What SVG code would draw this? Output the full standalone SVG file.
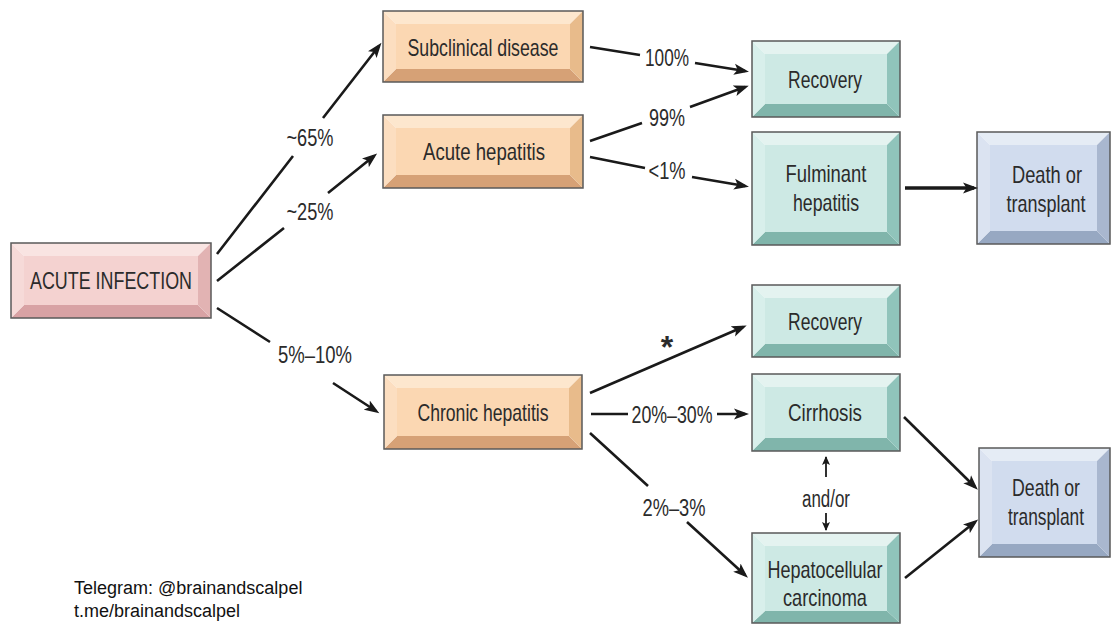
<svg xmlns="http://www.w3.org/2000/svg" width="1112" height="642" viewBox="0 0 1112 642">
<defs>
<style>
.bt{font-family:"Liberation Sans",Arial,sans-serif;font-size:24px;fill:#2b2b2b;text-anchor:middle}
.lb{font-family:"Liberation Sans",Arial,sans-serif;font-size:23px;fill:#2b2b2b;text-anchor:middle}
.wm{font-family:"Liberation Sans",Arial,sans-serif;font-size:18px;fill:#111}
.ol{fill:none;stroke:#5a5a5a;stroke-width:1.5}
.pink .t{fill:#f9e4e2}.pink .l{fill:#f6dad8}.pink .f{fill:#f4d2d0}.pink .r{fill:#e2b3b3}.pink .b{fill:#d8a2a4}
.peach .t{fill:#fde7ce}.peach .l{fill:#fcdec0}.peach .f{fill:#fbd7b2}.peach .r{fill:#e8bb8b}.peach .b{fill:#d6a176}
.teal .t{fill:#e4f3f0}.teal .l{fill:#d8efeb}.teal .f{fill:#cde9e4}.teal .r{fill:#90c4bb}.teal .b{fill:#80b5ab}
.blue .t{fill:#e5ecf5}.blue .l{fill:#dbe3f1}.blue .f{fill:#d1dcee}.blue .r{fill:#a9b7cf}.blue .b{fill:#97a8c2}
.cn{fill:none;stroke:#1a1a1a;stroke-width:2.6;marker-end:url(#ah)}
.cs{fill:none;stroke:#1a1a1a;stroke-width:1.8;marker-end:url(#ahs)}
</style>
<marker id="ah" markerUnits="userSpaceOnUse" markerWidth="16" markerHeight="12" refX="11" refY="6" orient="auto">
<path d="M0,0.5 L15,6 L0,11.5 L3.5,6 z" fill="#1a1a1a"/>
</marker>
<marker id="ahs" markerUnits="userSpaceOnUse" markerWidth="10" markerHeight="8" refX="8" refY="4" orient="auto">
<path d="M0,0 L9,4 L0,8 L2,4 z" fill="#1a1a1a"/>
</marker>
</defs>
<rect width="1112" height="642" fill="#fff"/>

<g id="n-acute-infection" class="pink">
<polygon class="t" points="11,243 211,243 198,256 24,256"/>
<polygon class="b" points="11,318 211,318 198,305 24,305"/>
<polygon class="l" points="11,243 24,256 24,305 11,318"/>
<polygon class="r" points="211,243 198,256 198,305 211,318"/>
<rect class="f" x="24" y="256" width="174" height="49"/>
<rect class="ol" x="11" y="243" width="200" height="75"/>
<text class="bt" x="111" y="289" textLength="162" lengthAdjust="spacingAndGlyphs">ACUTE INFECTION</text>
</g>

<g id="n-subclinical" class="peach">
<polygon class="t" points="383,11 583,11 570,24 396,24"/>
<polygon class="b" points="383,82 583,82 570,69 396,69"/>
<polygon class="l" points="383,11 396,24 396,69 383,82"/>
<polygon class="r" points="583,11 570,24 570,69 583,82"/>
<rect class="f" x="396" y="24" width="174" height="45"/>
<rect class="ol" x="383" y="11" width="200" height="71"/>
<text class="bt" x="483" y="56" textLength="151" lengthAdjust="spacingAndGlyphs">Subclinical disease</text>
</g>

<g id="n-acute-hepatitis" class="peach">
<polygon class="t" points="383,115 583,115 570,128 396,128"/>
<polygon class="b" points="383,188 583,188 570,175 396,175"/>
<polygon class="l" points="383,115 396,128 396,175 383,188"/>
<polygon class="r" points="583,115 570,128 570,175 583,188"/>
<rect class="f" x="396" y="128" width="174" height="47"/>
<rect class="ol" x="383" y="115" width="200" height="73"/>
<text class="bt" x="484" y="160" textLength="122" lengthAdjust="spacingAndGlyphs">Acute hepatitis</text>
</g>

<g id="n-chronic" class="peach">
<polygon class="t" points="384,375 582,375 569,388 397,388"/>
<polygon class="b" points="384,449 582,449 569,436 397,436"/>
<polygon class="l" points="384,375 397,388 397,436 384,449"/>
<polygon class="r" points="582,375 569,388 569,436 582,449"/>
<rect class="f" x="397" y="388" width="172" height="48"/>
<rect class="ol" x="384" y="375" width="198" height="74"/>
<text class="bt" x="483" y="421" textLength="131" lengthAdjust="spacingAndGlyphs">Chronic hepatitis</text>
</g>

<g id="n-recovery-1" class="teal">
<polygon class="t" points="752,41 900,41 887,54 765,54"/>
<polygon class="b" points="752,117 900,117 887,104 765,104"/>
<polygon class="l" points="752,41 765,54 765,104 752,117"/>
<polygon class="r" points="900,41 887,54 887,104 900,117"/>
<rect class="f" x="765" y="54" width="122" height="50"/>
<rect class="ol" x="752" y="41" width="148" height="76"/>
<text class="bt" x="825" y="88" textLength="74" lengthAdjust="spacingAndGlyphs">Recovery</text>
</g>

<g id="n-fulminant" class="teal">
<polygon class="t" points="752,132 900,132 887,145 765,145"/>
<polygon class="b" points="752,245 900,245 887,232 765,232"/>
<polygon class="l" points="752,132 765,145 765,232 752,245"/>
<polygon class="r" points="900,132 887,145 887,232 900,245"/>
<rect class="f" x="765" y="145" width="122" height="87"/>
<rect class="ol" x="752" y="132" width="148" height="113"/>
<text class="bt" x="826" y="182" textLength="81" lengthAdjust="spacingAndGlyphs">Fulminant</text>
<text class="bt" x="826" y="211" textLength="66" lengthAdjust="spacingAndGlyphs">hepatitis</text>
</g>

<g id="n-death-1" class="blue">
<polygon class="t" points="977,132 1110,132 1097,145 990,145"/>
<polygon class="b" points="977,244 1110,244 1097,231 990,231"/>
<polygon class="l" points="977,132 990,145 990,231 977,244"/>
<polygon class="r" points="1110,132 1097,145 1097,231 1110,244"/>
<rect class="f" x="990" y="145" width="107" height="86"/>
<rect class="ol" x="977" y="132" width="133" height="112"/>
<text class="bt" x="1047" y="183" textLength="70" lengthAdjust="spacingAndGlyphs">Death or</text>
<text class="bt" x="1046" y="212" textLength="79" lengthAdjust="spacingAndGlyphs">transplant</text>
</g>

<g id="n-recovery-2" class="teal">
<polygon class="t" points="752,285 900,285 887,298 765,298"/>
<polygon class="b" points="752,357 900,357 887,344 765,344"/>
<polygon class="l" points="752,285 765,298 765,344 752,357"/>
<polygon class="r" points="900,285 887,298 887,344 900,357"/>
<rect class="f" x="765" y="298" width="122" height="46"/>
<rect class="ol" x="752" y="285" width="148" height="72"/>
<text class="bt" x="825" y="330" textLength="74" lengthAdjust="spacingAndGlyphs">Recovery</text>
</g>

<g id="n-cirrhosis" class="teal">
<polygon class="t" points="752,374 900,374 887,387 765,387"/>
<polygon class="b" points="752,451 900,451 887,438 765,438"/>
<polygon class="l" points="752,374 765,387 765,438 752,451"/>
<polygon class="r" points="900,374 887,387 887,438 900,451"/>
<rect class="f" x="765" y="387" width="122" height="51"/>
<rect class="ol" x="752" y="374" width="148" height="77"/>
<text class="bt" x="825" y="421" textLength="74" lengthAdjust="spacingAndGlyphs">Cirrhosis</text>
</g>

<g id="n-hcc" class="teal">
<polygon class="t" points="752,533 900,533 887,546 765,546"/>
<polygon class="b" points="752,623 900,623 887,611 765,611"/>
<polygon class="l" points="752,533 765,546 765,611 752,623"/>
<polygon class="r" points="900,533 887,546 887,611 900,623"/>
<rect class="f" x="765" y="546" width="122" height="65"/>
<rect class="ol" x="752" y="533" width="148" height="90"/>
<text class="bt" x="825" y="578" textLength="115" lengthAdjust="spacingAndGlyphs">Hepatocellular</text>
<text class="bt" x="825" y="606" textLength="84" lengthAdjust="spacingAndGlyphs">carcinoma</text>
</g>

<g id="n-death-2" class="blue">
<polygon class="t" points="979,448 1110,448 1097,461 992,461"/>
<polygon class="b" points="979,557 1110,557 1097,544 992,544"/>
<polygon class="l" points="979,448 992,461 992,544 979,557"/>
<polygon class="r" points="1110,448 1097,461 1097,544 1110,557"/>
<rect class="f" x="992" y="461" width="105" height="83"/>
<rect class="ol" x="979" y="448" width="131" height="109"/>
<text class="bt" x="1046" y="496" textLength="68" lengthAdjust="spacingAndGlyphs">Death or</text>
<text class="bt" x="1046" y="525" textLength="76" lengthAdjust="spacingAndGlyphs">transplant</text>
</g>

<g id="connectors">
<path class="cn" d="M217,254 L293,156 M323,118 L379,46"/>
<path class="cn" d="M217,281 L284,228 M328,193 L374,156"/>
<path class="cn" d="M217,308 L270,342 M333,383 L376,411"/>
<path class="cn" d="M590,47 L640,55 M695,63 L745,71"/>
<path class="cn" d="M590,141 L642,123 M690,107 L745,87"/>
<path class="cn" d="M590,157 L645,168 M692,177 L745,186"/>
<path class="cn" d="M905,188 L974,188" style="stroke-width:3.4"/>
<path class="cn" d="M590,393 L743,327"/>
<path class="cn" d="M591,414 L628,414 M717,414 L745,414"/>
<path class="cn" d="M590,433 L648,486 M687,522 L745,575"/>
<path class="cn" d="M904,417 L975,487"/>
<path class="cn" d="M905,578 L975,522"/>
<path class="cs" d="M826,477 L826,457"/>
<path class="cs" d="M826,513 L826,530"/>
<text class="lb" x="310" y="146" textLength="47" lengthAdjust="spacingAndGlyphs">~65%</text>
<text class="lb" x="310" y="220" textLength="47" lengthAdjust="spacingAndGlyphs">~25%</text>
<text class="lb" x="315" y="363" textLength="74" lengthAdjust="spacingAndGlyphs">5%–10%</text>
<text class="lb" x="667" y="66" textLength="44" lengthAdjust="spacingAndGlyphs">100%</text>
<text class="lb" x="667" y="126" textLength="36" lengthAdjust="spacingAndGlyphs">99%</text>
<text class="lb" x="667" y="179" textLength="37" lengthAdjust="spacingAndGlyphs">&lt;1%</text>
<text class="lb" x="667" y="358" style="font-size:32px;font-weight:bold">*</text>
<text class="lb" x="672" y="423" textLength="81" lengthAdjust="spacingAndGlyphs">20%–30%</text>
<text class="lb" x="674" y="516" textLength="63" lengthAdjust="spacingAndGlyphs">2%–3%</text>
<text class="lb" x="826" y="507" textLength="48" lengthAdjust="spacingAndGlyphs">and/or</text>
</g>

<text class="wm" x="74" y="594">Telegram: @brainandscalpel</text>
<text class="wm" x="74" y="617">t.me/brainandscalpel</text>
</svg>
